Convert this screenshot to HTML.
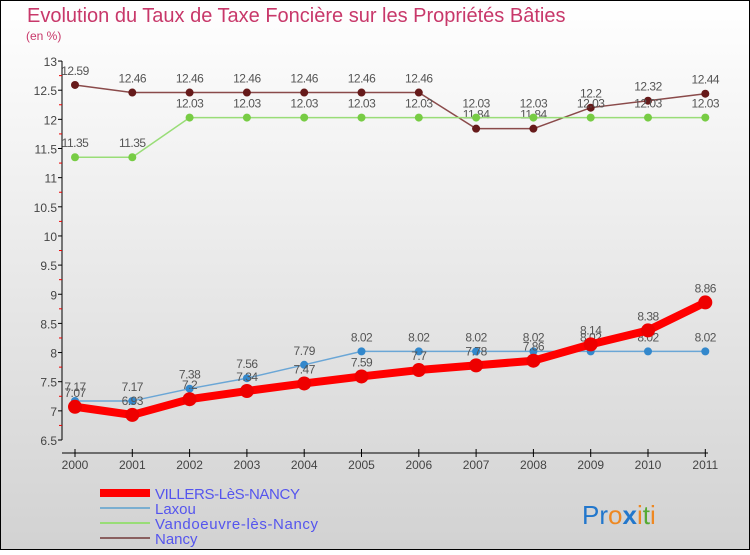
<!DOCTYPE html>
<html><head><meta charset="utf-8"><style>
body{margin:0;}
svg text{font-family:"Liberation Sans",sans-serif;}
</style></head><body>
<svg width="750" height="550" xmlns="http://www.w3.org/2000/svg">
<defs><linearGradient id="bg" x1="0" y1="0" x2="0" y2="1"><stop offset="0" stop-color="#ffffff"/><stop offset="1" stop-color="#d2d2d2"/></linearGradient></defs>
<rect x="0.5" y="0.5" width="749" height="549" fill="url(#bg)" stroke="#000"/>
<text x="27" y="22" font-size="20" fill="#c8386a">Evolution du Taux de Taxe Foncière sur les Propriétés Bâties</text>
<text x="26" y="40" font-size="12" fill="#c8386a">(en %)</text>
<g id="axes"></g>
<g id="series"></g>
<g>
<rect x="100" y="489" width="50" height="8" fill="#ff0000"/>
<text x="155" y="499" font-size="15" fill="#5555ee" textLength="145">VILLERS-LèS-NANCY</text>
<rect x="100" y="507" width="50" height="2" fill="#7aaed0"/>
<text x="155" y="514" font-size="15" fill="#5555ee">Laxou</text>
<rect x="100" y="522" width="50" height="2" fill="#99dd77"/>
<text x="155" y="529" font-size="15" fill="#5555ee" textLength="163">Vandoeuvre-lès-Nancy</text>
<rect x="100" y="537" width="50" height="2" fill="#8a6060"/>
<text x="155" y="544" font-size="15" fill="#5555ee">Nancy</text>
</g>
<g font-size="26">
<text x="582" y="524"><tspan fill="#2277cc">Pr</tspan><tspan fill="#ee8822">o</tspan><tspan fill="#2277cc" font-weight="bold">x</tspan><tspan fill="#ee8822">i</tspan><tspan fill="#55aa33">t</tspan><tspan fill="#ee8822">i</tspan></text>
</g>
</svg>
<script>
const years=["2000","2001","2002","2003","2004","2005","2006","2007","2008","2009","2010","2011"];
const villers=[7.07,6.93,7.2,7.34,7.47,7.59,7.7,7.78,7.86,8.14,8.38,8.86];
const laxou=[7.17,7.17,7.38,7.56,7.79,8.02,8.02,8.02,8.02,8.02,8.02,8.02];
const vandoeuvre=[11.35,11.35,12.03,12.03,12.03,12.03,12.03,12.03,12.03,12.03,12.03,12.03];
const nancy=[12.59,12.46,12.46,12.46,12.46,12.46,12.46,11.84,11.84,12.2,12.32,12.44];
const yTicks=[6.5,7,7.5,8,8.5,9,9.5,10,10.5,11,11.5,12,12.5,13];
const NS="http://www.w3.org/2000/svg";
const X0=75,XS=57.3,Y0=440,YS=58.3,YMIN=6.5;
function xs(i){return X0+i*XS;}
function ys(v){return Y0-(v-YMIN)*YS;}
function mk(tag,attrs,parent){const e=document.createElementNS(NS,tag);for(const k in attrs)e.setAttribute(k,attrs[k]);parent.appendChild(e);return e;}
const ax=document.getElementById('axes');
let l=mk('line',{x1:62,y1:ys(13),x2:62,y2:Y0,stroke:'#000'},ax);


l=mk('line',{x1:62,y1:453,x2:708,y2:453,stroke:'#000'},ax);


yTicks.forEach((t,i)=>{
  const y=ys(t);
  mk('line',{x1:58,y1:y,x2:62,y2:y,stroke:'#000'},ax);
  if(i<yTicks.length-1)mk('line',{x1:59,y1:ys(t+0.25),x2:62,y2:ys(t+0.25),stroke:'#e00'},ax);
  const tx=mk('text',{x:57,y:y+5,'text-anchor':'end','font-size':12,fill:'#444'},ax);
  tx.textContent=String(t);
  
  
});
years.forEach((yr,i)=>{
  const x=xs(i);
  mk('line',{x1:x,y1:449,x2:x,y2:457,stroke:'#000'},ax);
  const tx=mk('text',{x:x,y:469,'text-anchor':'middle','font-size':12,fill:'#444'},ax);
  tx.textContent=yr;
  
  
});
const sg=document.getElementById('series');
function fmt(v){return String(+v.toFixed(2));}
function draw(name,vals,color,lw,r,dot){
  const g=mk('g',{},sg);
  
  
  const pl=mk('polyline',{points:vals.map((v,i)=>xs(i)+','+ys(v)).join(' '),fill:'none',stroke:color,'stroke-width':lw,'stroke-linejoin':'round'},g);
  
  
  vals.forEach((v,i)=>{
    const c=mk('circle',{cx:xs(i),cy:ys(v),r:r,fill:dot},g);
    
    
    const t=mk('text',{x:xs(i),y:ys(v)-10,'text-anchor':'middle','font-size':12,fill:'#555','letter-spacing':'-0.5'},g);
    t.textContent=fmt(v);
    
    
  });
}
draw('nancy',nancy,'#8a4a4a',1.5,4,'#661a1a');
draw('vandoeuvre',vandoeuvre,'#99dd77',1.5,4,'#77cc44');
draw('laxou',laxou,'#6aa6d6',1.5,4,'#3388cc');
draw('villers',villers,'#ff0000',8,7,'#ee0000');
</script>
</body></html>
